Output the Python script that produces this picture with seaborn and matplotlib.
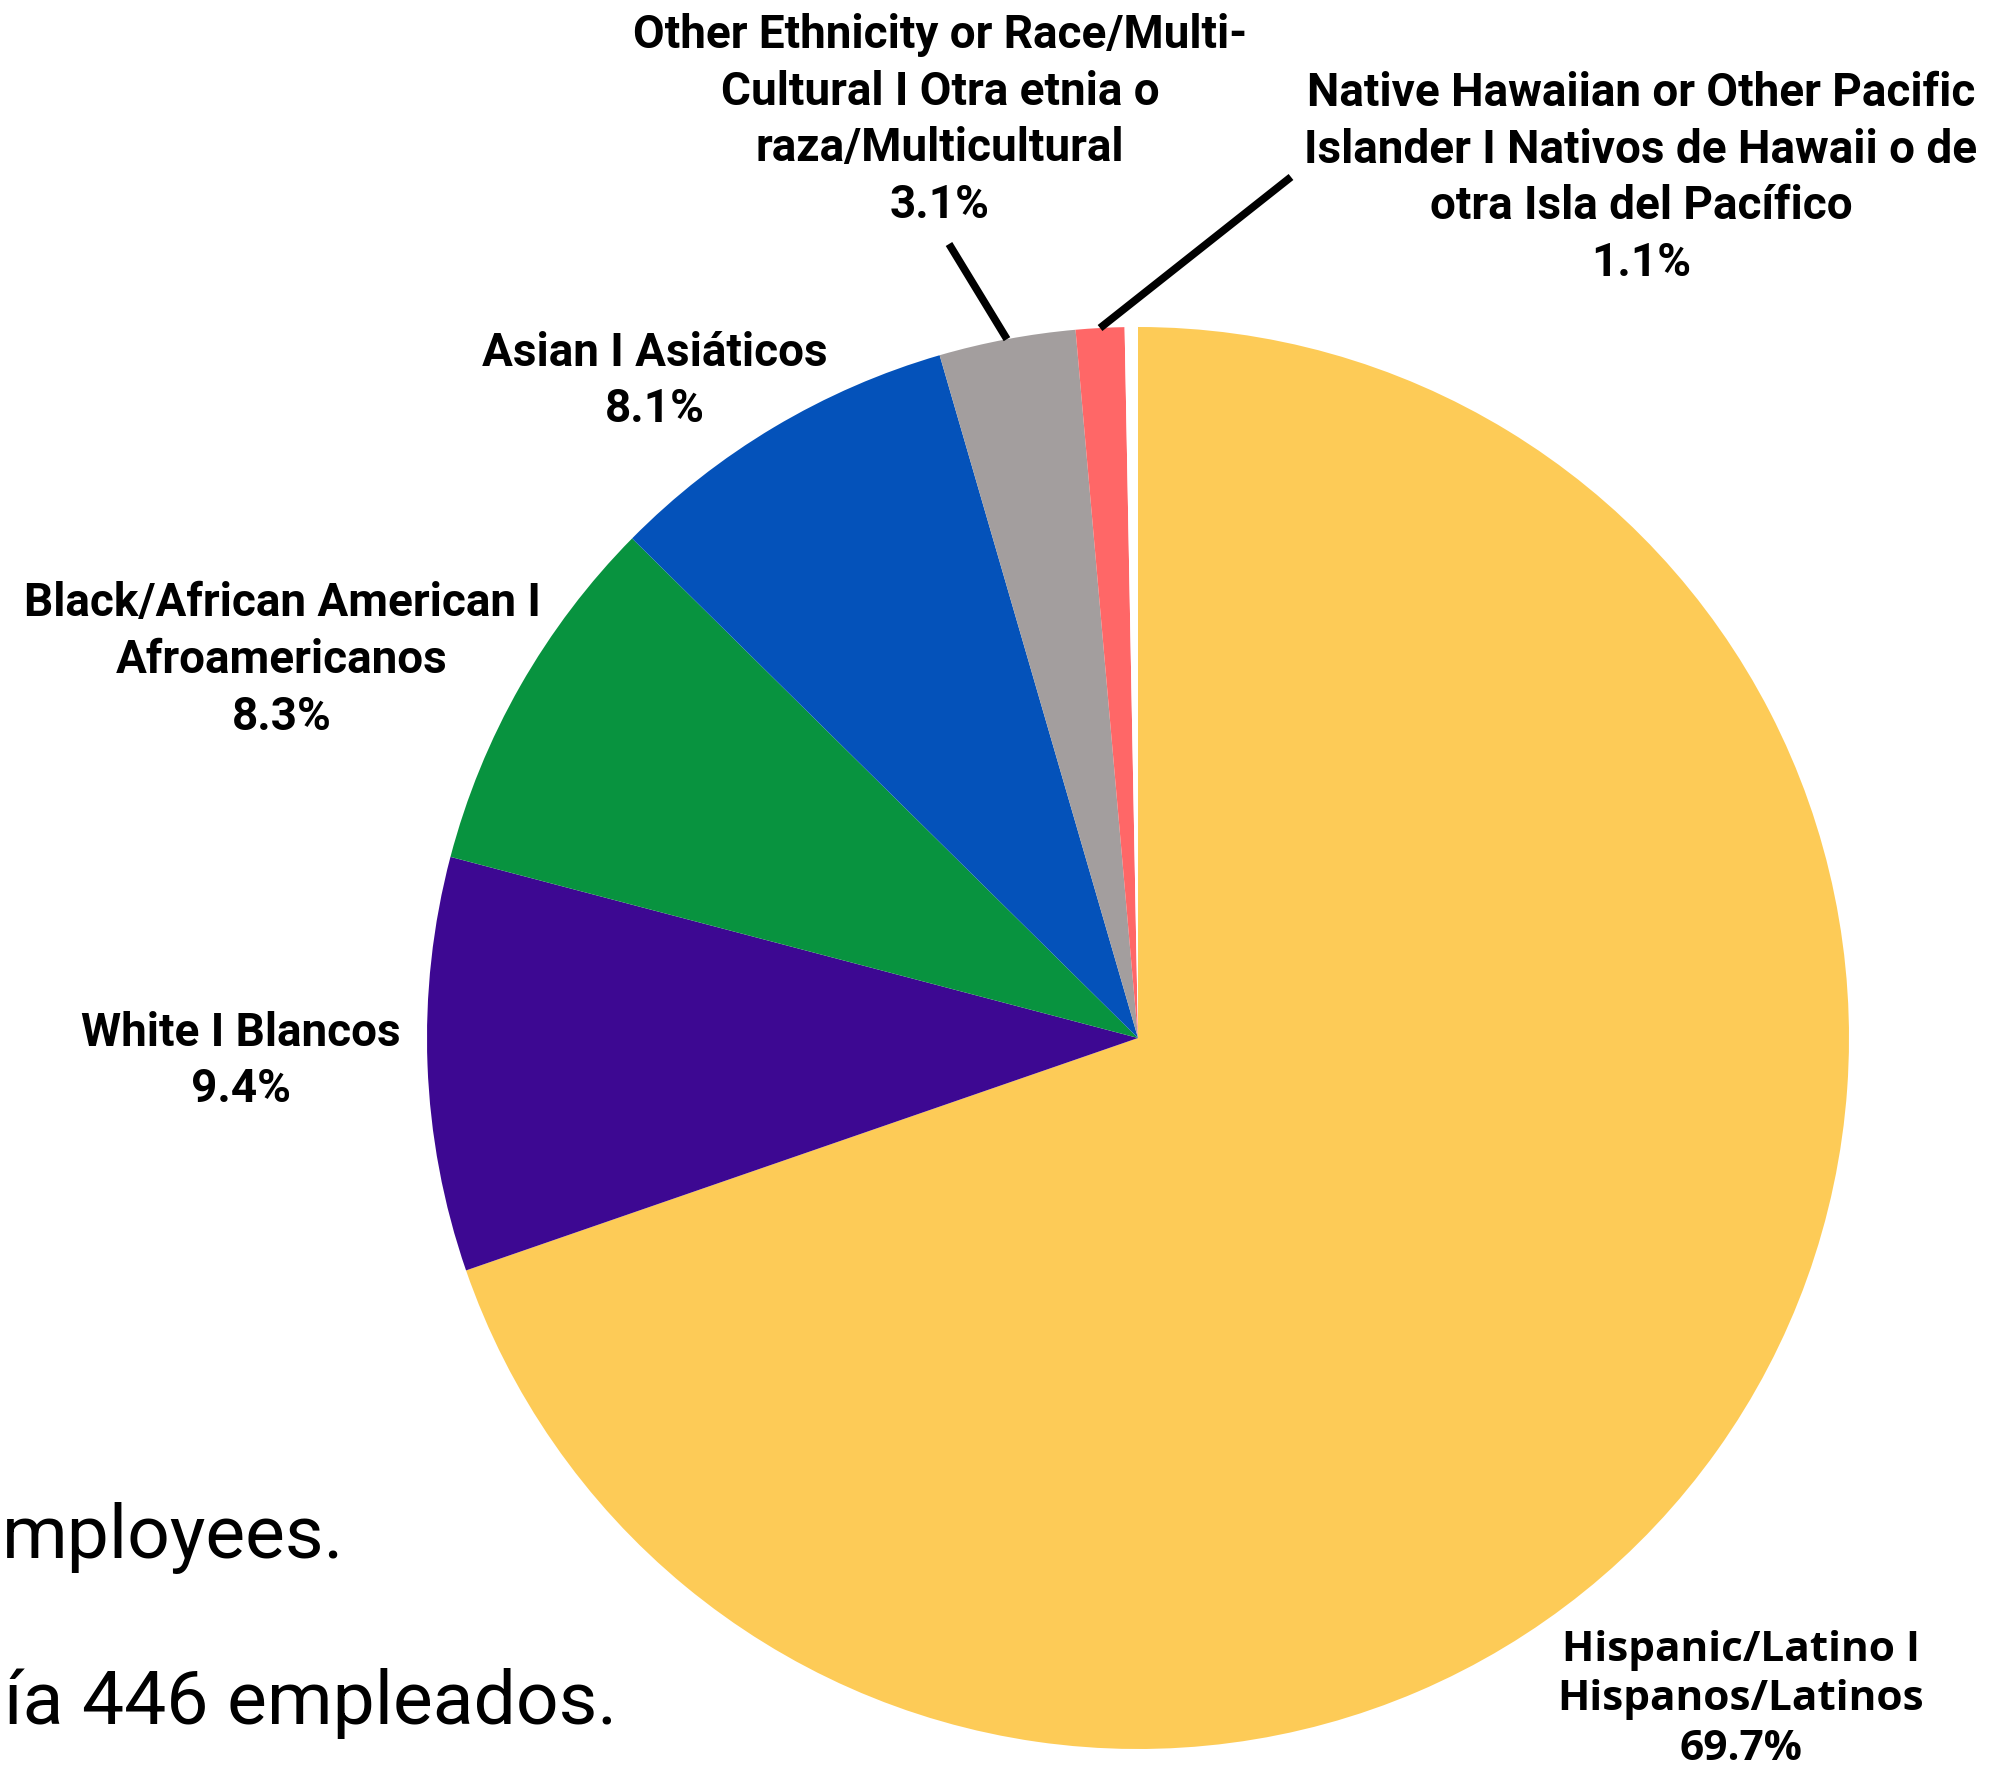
import numpy as np
import matplotlib.pyplot as plt
import seaborn as sns

sns.set_theme(style='white')
plt.rcParams['font.family'] = ['Roboto', 'DejaVu Sans']

groups = ['Hispanic/Latino I\nHispanos/Latinos',
          'White I Blancos',
          'Black/African American I\nAfroamericanos',
          'Asian I Asiáticos',
          'Other Ethnicity or Race/Multi-\nCultural I Otra etnia o\nraza/Multicultural',
          'Native Hawaiian or Other Pacific\nIslander I Nativos de Hawaii o de\notra Isla del Pacífico',
          '']
shares = [69.7, 9.4, 8.3, 8.1, 3.1, 1.1, 0.3]
colors = ['#FDCB57', '#3D0892', '#08933F', '#0452BA', '#A39E9E', '#FF6767', '#FFFFFF']

# the notes are cut at the left edge in the original, only this part is visible
note_en = 'mployees.'
note_es = 'ía 446 empleados.'

W, H = 2010, 1779
fig = plt.figure(figsize=(W / 100, H / 100), dpi=100)
ax = fig.add_axes([0, 0, 1, 1])

cx, cy, r = 1138, H - 1038, 711
wedges, _ = ax.pie(shares, colors=sns.color_palette(colors), startangle=90,
                   counterclock=False, center=(cx, cy), radius=r,
                   wedgeprops=dict(linewidth=0))
ax.set_xlim(0, W)
ax.set_ylim(0, H)
ax.axis('off')

# label block centres in pixel coords (top origin)
label_pos = [(1741, 1700), (241, 1061), (282, 660), (655, 381), (940, 120), (1641, 178)]
for i, (x, y) in enumerate(label_pos):
    txt = groups[i] + '\n' + '{:.1f}%'.format(shares[i])
    if i == 0:
        ax.text(x, H - y, txt, ha='center', va='center', fontsize=30.5,
                fontweight='bold', family=['Open Sans', 'DejaVu Sans'],
                linespacing=1.27, color='black')
    else:
        ax.text(x, H - y, txt, ha='center', va='center', fontsize=33,
                fontweight='bold', linespacing=1.36, color='black')

# leader lines for the two thin slices
line_end = {4: (949, 244), 5: (1291, 177)}
for i, (x, y) in line_end.items():
    w = wedges[i]
    mid = np.deg2rad((w.theta1 + w.theta2) / 2)
    x0, y0 = cx + r * np.cos(mid), cy + r * np.sin(mid)
    ax.plot([x0, x], [y0, H - y], color='black', lw=5.5, solid_capstyle='butt')

ax.text(2, H - 1558, note_en, ha='left', va='baseline', fontsize=54,
        fontweight='normal', color='black')
ax.text(4, H - 1724, note_es, ha='left', va='baseline', fontsize=54,
        fontweight='normal', color='black')

fig.savefig('out.png', dpi=100)
